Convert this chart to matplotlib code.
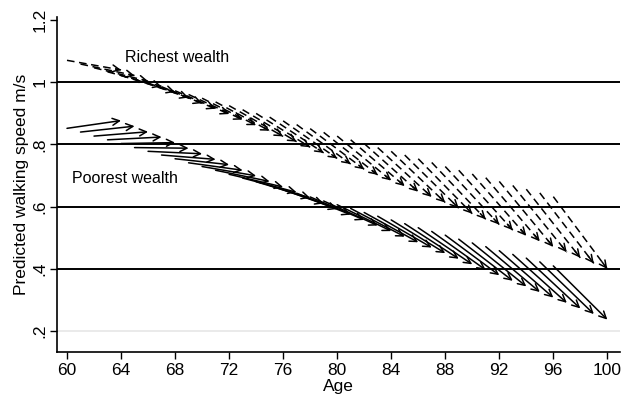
import matplotlib
matplotlib.use("Agg")
import matplotlib.pyplot as plt

# starting ages of each arrow (each arrow spans 4 years)
ages = list(range(60, 97))
span = 4

# richest wealth: predicted speed at baseline age and 4 years later
rich_start = [1.071, 1.059, 1.047, 1.034, 1.022, 1.010, 0.998, 0.986, 0.973, 0.961,
              0.949, 0.937, 0.925, 0.912, 0.900, 0.888, 0.876, 0.864, 0.851, 0.839,
              0.827, 0.815, 0.803, 0.790, 0.778, 0.766, 0.754, 0.742, 0.729, 0.717,
              0.705, 0.693, 0.681, 0.668, 0.656, 0.644, 0.632]
rich_end = [1.040, 1.022, 1.004, 0.987, 0.969, 0.951, 0.933, 0.915, 0.898, 0.880,
            0.862, 0.844, 0.826, 0.809, 0.791, 0.773, 0.755, 0.737, 0.720, 0.702,
            0.684, 0.666, 0.648, 0.631, 0.613, 0.595, 0.577, 0.559, 0.542, 0.524,
            0.506, 0.488, 0.470, 0.453, 0.435, 0.417, 0.399]

# poorest wealth
poor_start = [0.852, 0.840, 0.827, 0.815, 0.803, 0.790, 0.778, 0.766, 0.754, 0.741,
              0.729, 0.717, 0.704, 0.692, 0.680, 0.668, 0.655, 0.643, 0.631, 0.618,
              0.606, 0.594, 0.581, 0.569, 0.557, 0.545, 0.532, 0.520, 0.508, 0.495,
              0.483, 0.471, 0.458, 0.446, 0.434, 0.422, 0.409]
poor_end = [0.877, 0.859, 0.841, 0.824, 0.806, 0.788, 0.770, 0.752, 0.735, 0.717,
            0.699, 0.681, 0.663, 0.646, 0.628, 0.610, 0.592, 0.574, 0.557, 0.539,
            0.521, 0.503, 0.485, 0.468, 0.450, 0.432, 0.414, 0.396, 0.379, 0.361,
            0.343, 0.325, 0.307, 0.290, 0.272, 0.254, 0.236]

xticks = list(range(60, 101, 4))
yticks = [0.2, 0.4, 0.6, 0.8, 1.0, 1.2]
ylabels = [".2", ".4", ".6", ".8", "1", "1.2"]

plt.rcParams['font.family'] = ['Liberation Sans', 'DejaVu Sans']

fig = plt.figure(figsize=(6.25, 3.99), dpi=100)
ax = fig.add_axes([0.0912, 0.118, 0.9, 0.839])
ax.set_xlim(59.26, 100.9)
ax.set_ylim(0.132, 1.21)

# horizontal grid lines
for y in yticks[1:5]:
    ax.axhline(y, color='black', lw=1.4, zorder=1)
ax.axhline(0.2, color='#e6e6e6', lw=1.2, zorder=0)

head = '->,head_length=0.5,head_width=0.25'


def draw_arrows(starts, ends, dashed):
    for a, y0, y1 in zip(ages, starts, ends):
        x1 = a + span
        if dashed:
            ax.plot([a, x1], [y0, y1], color='black', lw=1.1,
                    dashes=(5, 3), zorder=3)
            # solid head on the last bit of the arrow
            f = 0.9
            ax.annotate('', xy=(x1, y1),
                        xytext=(a + f * span, y0 + f * (y1 - y0)),
                        arrowprops=dict(arrowstyle=head, color='black', lw=1.1,
                                        shrinkA=0, shrinkB=0),
                        zorder=3)
        else:
            ax.annotate('', xy=(x1, y1), xytext=(a, y0),
                        arrowprops=dict(arrowstyle=head, color='black', lw=1.1,
                                        shrinkA=0, shrinkB=0),
                        zorder=3)


draw_arrows(rich_start, rich_end, True)
draw_arrows(poor_start, poor_end, False)

ax.text(64.3, 1.08, "Richest wealth", fontsize=11.5, va='center', ha='left')
ax.text(60.4, 0.692, "Poorest wealth", fontsize=11.5, va='center', ha='left')

ax.set_xticks(xticks)
ax.set_xticklabels([str(t) for t in xticks], fontsize=12.5)
ax.set_yticks(yticks)
ax.set_yticklabels(ylabels, fontsize=12.5, rotation=90, va='center')
ax.tick_params(axis='both', direction='out', length=5, width=1, color='black')
ax.tick_params(axis='x', pad=3)
ax.tick_params(axis='y', pad=2)

ax.spines['top'].set_visible(False)
ax.spines['right'].set_visible(False)
ax.spines['left'].set_linewidth(1.2)
ax.spines['bottom'].set_linewidth(1.2)

ax.set_xlabel("Age", fontsize=12.5, labelpad=1)
ax.set_ylabel("Predicted walking speed m/s", fontsize=12.5, labelpad=2)

fig.savefig("out.png", dpi=100)
